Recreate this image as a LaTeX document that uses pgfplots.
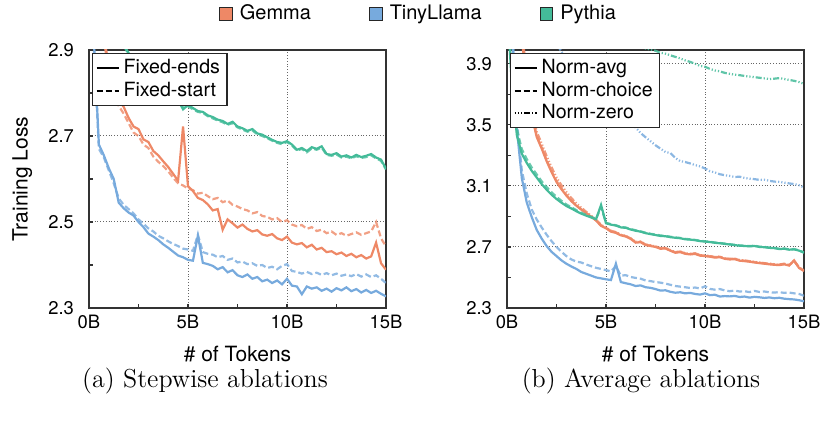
\documentclass[border=0pt]{standalone}
\usepackage{fontspec}
\setsansfont{TeX Gyre Heros}
\renewcommand{\familydefault}{\sfdefault}
\usepackage{pgfplots}
\usepackage{pgfplotstable}
\pgfplotsset{compat=1.18}

\definecolor{gemma}{HTML}{EE8866}
\definecolor{tinyl}{HTML}{77AADD}
\definecolor{pythia}{HTML}{44BB99}

% (a) stepwise: ends = Fixed-ends, st = Fixed-start
\pgfplotstableread{
x ge gs te ts pe ps
0.00 3.300 3.280 3.400 3.380 3.600 3.590
0.25 3.140 3.120 2.920 2.900 3.400 3.395
0.50 3.010 3.000 2.680 2.670 3.220 3.215
0.75 2.930 2.920 2.655 2.650 3.100 3.098
1.00 2.865 2.855 2.625 2.620 3.020 3.018
1.25 2.815 2.805 2.600 2.590 2.970 2.968
1.50 2.782 2.770 2.545 2.555 2.940 2.937
1.75 2.768 2.752 2.532 2.540 2.912 2.910
2.00 2.742 2.730 2.522 2.530 2.893 2.890
2.25 2.722 2.708 2.515 2.520 2.876 2.874
2.50 2.716 2.700 2.500 2.506 2.862 2.860
2.75 2.692 2.680 2.488 2.496 2.849 2.846
3.00 2.686 2.672 2.473 2.485 2.838 2.836
3.25 2.665 2.652 2.466 2.478 2.828 2.825
3.50 2.655 2.640 2.458 2.468 2.817 2.815
3.75 2.641 2.630 2.448 2.462 2.809 2.806
4.00 2.628 2.618 2.440 2.455 2.799 2.797
4.25 2.612 2.603 2.431 2.449 2.791 2.789
4.50 2.596 2.590 2.422 2.444 2.784 2.781
4.75 2.722 2.585 2.418 2.438 2.762 2.766
5.00 2.583 2.578 2.412 2.436 2.772 2.769
5.25 2.572 2.574 2.410 2.433 2.765 2.762
5.50 2.556 2.566 2.468 2.470 2.758 2.756
5.75 2.551 2.568 2.405 2.430 2.756 2.754
6.00 2.541 2.560 2.402 2.426 2.748 2.746
6.25 2.527 2.553 2.398 2.424 2.744 2.741
6.50 2.530 2.556 2.390 2.418 2.738 2.736
6.75 2.482 2.546 2.395 2.421 2.735 2.732
7.00 2.506 2.550 2.383 2.412 2.728 2.726
7.25 2.497 2.540 2.388 2.415 2.733 2.730
7.50 2.487 2.536 2.376 2.406 2.722 2.720
7.75 2.494 2.530 2.372 2.408 2.718 2.715
8.00 2.484 2.527 2.378 2.402 2.712 2.710
8.25 2.478 2.520 2.368 2.404 2.716 2.713
8.50 2.481 2.523 2.372 2.398 2.706 2.704
8.75 2.471 2.514 2.362 2.400 2.703 2.700
9.00 2.468 2.512 2.366 2.393 2.697 2.695
9.25 2.472 2.506 2.358 2.396 2.691 2.689
9.50 2.462 2.509 2.364 2.390 2.686 2.684
9.75 2.458 2.500 2.355 2.398 2.684 2.681
10.00 2.466 2.504 2.368 2.402 2.688 2.686
10.25 2.452 2.494 2.352 2.386 2.680 2.678
10.50 2.448 2.490 2.350 2.384 2.668 2.666
10.75 2.451 2.493 2.332 2.380 2.672 2.670
11.00 2.441 2.484 2.350 2.384 2.665 2.662
11.25 2.447 2.488 2.345 2.379 2.674 2.671
11.50 2.436 2.479 2.348 2.382 2.670 2.668
11.75 2.440 2.482 2.340 2.377 2.676 2.673
12.00 2.430 2.474 2.345 2.381 2.658 2.656
12.25 2.432 2.478 2.338 2.376 2.656 2.654
12.50 2.425 2.470 2.346 2.380 2.660 2.657
12.75 2.429 2.474 2.341 2.375 2.652 2.650
13.00 2.421 2.468 2.348 2.378 2.655 2.652
13.25 2.426 2.472 2.339 2.374 2.650 2.648
13.50 2.418 2.476 2.344 2.379 2.656 2.653
13.75 2.423 2.470 2.336 2.373 2.651 2.649
14.00 2.415 2.474 2.342 2.378 2.654 2.651
14.25 2.420 2.478 2.335 2.372 2.658 2.655
14.50 2.452 2.500 2.340 2.376 2.650 2.648
14.75 2.404 2.462 2.333 2.368 2.645 2.642
15.00 2.389 2.443 2.327 2.358 2.624 2.622
}\stepwise

% (b) average: a = Norm-avg, c = Norm-choice, z = Norm-zero
\pgfplotstableread{
x ga gc gz ta tc tz pa pc pz
0.00 5.000 5.000 5.100 5.000 5.000 6.000 4.300 4.350 8.000
0.25 4.600 4.600 4.700 4.100 4.200 5.500 3.750 3.800 7.000
0.50 4.250 4.260 4.320 3.470 3.520 5.100 3.430 3.470 6.400
0.75 4.050 4.060 4.100 3.150 3.200 4.800 3.310 3.340 6.000
1.00 3.800 3.810 3.850 2.990 3.050 4.600 3.250 3.275 5.700
1.25 3.560 3.570 3.600 2.895 2.945 4.450 3.198 3.220 5.450
1.50 3.420 3.430 3.455 2.812 2.880 4.330 3.155 3.175 5.250
1.75 3.345 3.352 3.378 2.755 2.828 4.240 3.112 3.130 5.080
2.00 3.262 3.270 3.295 2.706 2.780 4.160 3.075 3.092 4.940
2.25 3.190 3.198 3.222 2.668 2.738 4.090 3.042 3.058 4.820
2.50 3.125 3.132 3.155 2.640 2.700 4.030 3.014 3.028 4.720
2.75 3.078 3.084 3.104 2.612 2.668 3.980 2.990 3.002 4.630
3.00 3.036 3.040 3.060 2.590 2.640 3.930 2.968 2.978 4.550
3.25 3.000 3.004 3.020 2.572 2.618 3.885 2.952 2.960 4.480
3.50 2.970 2.972 2.986 2.556 2.604 3.845 2.934 2.941 4.420
3.75 2.945 2.946 2.958 2.536 2.598 3.810 2.918 2.924 4.360
4.00 2.921 2.922 2.930 2.524 2.585 3.775 2.905 2.910 4.310
4.25 2.898 2.899 2.905 2.512 2.574 3.745 2.893 2.897 4.260
4.50 2.872 2.874 2.878 2.500 2.563 3.715 2.882 2.885 4.220
4.75 2.838 2.842 2.845 2.494 2.556 3.690 2.975 2.960 4.180
5.00 2.822 2.825 2.826 2.488 2.548 3.665 2.855 2.858 4.150
5.25 2.800 2.804 2.806 2.483 2.540 3.640 2.846 2.849 4.120
5.50 2.792 2.795 2.797 2.590 2.575 3.620 2.840 2.842 4.090
5.75 2.776 2.779 2.780 2.470 2.512 3.575 2.828 2.831 4.070
6.00 2.768 2.771 2.772 2.462 2.515 3.535 2.825 2.827 4.050
6.25 2.752 2.755 2.756 2.455 2.503 3.505 2.814 2.817 4.035
6.50 2.728 2.731 2.733 2.444 2.497 3.482 2.806 2.809 4.020
6.75 2.731 2.734 2.735 2.448 2.492 3.446 2.800 2.802 4.008
7.00 2.712 2.715 2.716 2.436 2.480 3.418 2.790 2.793 4.000
7.25 2.706 2.709 2.710 2.432 2.476 3.392 2.784 2.786 3.993
7.50 2.700 2.703 2.704 2.424 2.470 3.366 2.778 2.781 3.985
7.75 2.688 2.691 2.692 2.414 2.466 3.344 2.772 2.775 3.972
8.00 2.690 2.693 2.694 2.416 2.460 3.322 2.770 2.772 3.966
8.25 2.675 2.678 2.679 2.406 2.452 3.315 2.764 2.767 3.955
8.50 2.662 2.665 2.666 2.400 2.444 3.283 2.760 2.762 3.945
8.75 2.666 2.669 2.670 2.403 2.440 3.262 2.757 2.759 3.935
9.00 2.655 2.658 2.659 2.396 2.436 3.256 2.750 2.753 3.922
9.25 2.651 2.654 2.655 2.399 2.431 3.247 2.748 2.750 3.912
9.50 2.654 2.657 2.658 2.392 2.434 3.236 2.744 2.746 3.900
9.75 2.643 2.646 2.647 2.388 2.428 3.228 2.738 2.741 3.886
10.00 2.640 2.643 2.644 2.396 2.442 3.214 2.735 2.737 3.880
10.25 2.636 2.639 2.640 2.384 2.425 3.196 2.732 2.734 3.866
10.50 2.630 2.633 2.634 2.387 2.420 3.188 2.727 2.729 3.856
10.75 2.633 2.636 2.637 2.375 2.424 3.176 2.724 2.726 3.850
11.00 2.622 2.625 2.626 2.378 2.415 3.170 2.720 2.722 3.840
11.25 2.618 2.621 2.622 2.376 2.410 3.165 2.716 2.718 3.834
11.50 2.620 2.623 2.624 2.379 2.414 3.158 2.712 2.714 3.828
11.75 2.610 2.613 2.614 2.372 2.408 3.160 2.708 2.710 3.825
12.00 2.607 2.610 2.611 2.375 2.410 3.152 2.706 2.708 3.820
12.25 2.603 2.606 2.607 2.368 2.404 3.147 2.704 2.706 3.816
12.50 2.598 2.601 2.602 2.373 2.412 3.144 2.706 2.708 3.812
12.75 2.594 2.597 2.598 2.370 2.405 3.139 2.700 2.702 3.808
13.00 2.590 2.593 2.594 2.366 2.408 3.140 2.698 2.700 3.804
13.25 2.586 2.589 2.590 2.369 2.403 3.133 2.694 2.696 3.800
13.50 2.583 2.586 2.587 2.364 2.401 3.128 2.692 2.694 3.802
13.75 2.581 2.584 2.585 2.367 2.404 3.126 2.686 2.688 3.806
14.00 2.586 2.589 2.590 2.361 2.399 3.121 2.688 2.690 3.800
14.25 2.578 2.581 2.582 2.358 2.401 3.116 2.682 2.684 3.794
14.50 2.612 2.606 2.610 2.356 2.396 3.112 2.684 2.686 3.788
14.75 2.562 2.565 2.566 2.351 2.392 3.104 2.676 2.678 3.780
15.00 2.542 2.545 2.546 2.344 2.380 3.089 2.662 2.664 3.768
}\average

\pgfplotsset{
  lossax/.style={
    scale only axis, width=148.5pt, height=129pt,
    xmin=0, xmax=15,
    xtick={0,5,10,15}, xticklabels={0B,5B,10B,15B},
    minor xtick={2.5,7.5,12.5},
    tick align=inside, tick pos=left,
    major tick length=2pt, minor tick length=2pt,
    grid=major,
    major grid style={densely dotted, black!60, line width=0.5pt},
    axis line style={black!80, line width=0.6pt},
    every tick/.style={black!80, line width=0.6pt},
    every minor tick/.style={black!80, line width=0.6pt},
    tick label style={font=\sffamily\fontsize{9.2}{10}\selectfont},
    /pgf/number format/assume math mode=true,
    yticklabel style={/pgf/number format/fixed, /pgf/number format/precision=1, xshift=-4pt},
    label style={font=\sffamily\fontsize{10.5}{12}\selectfont},
    xlabel={\# of Tokens},
    xlabel style={at={(axis description cs:0.5,0)}, anchor=center, yshift=-23pt},
    legend style={at={(axis description cs:0,1)}, anchor=north west,
      xshift=1.5pt, yshift=-1.5pt, draw=black!85, line width=0.6pt, fill=white,
      font=\sffamily\fontsize{9.8}{11}\selectfont, inner xsep=1.5pt, inner ysep=1pt,
      row sep=-1.5pt, cells={anchor=west}},
    legend image code/.code={\draw[#1] (0pt,0pt) -- (11pt,0pt);},
  },
  crv/.style={line width=1.1pt},
  dsh/.style={line width=1.1pt, dash pattern=on 3pt off 1.5pt, opacity=0.8},
  dzr/.style={line width=1.1pt, dash pattern=on 0.6pt off 1pt on 0.6pt off 1pt on 0.6pt off 1pt on 3pt off 1pt, opacity=0.85},
}

\begin{document}
\begin{tikzpicture}[font=\sffamily]
\useasboundingbox (-44.5pt,-56.5pt) rectangle (368pt,154pt);

% colour legend on top
\begin{axis}[at={(0pt,0pt)}, anchor=south west, scale only axis,
  width=368pt, height=154pt, hide axis,
  xmin=0, xmax=1, ymin=0, ymax=1,
  legend columns=3,
  legend style={at={(0.449,0.955)}, anchor=center, draw=none, fill=none,
    font=\sffamily\fontsize{10}{11}\selectfont,
    /tikz/every odd column/.append style={column sep=1.5pt},
    /tikz/every even column/.append style={column sep=27pt}},
  legend image code/.code={\draw[#1] (0pt,-3.2pt) rectangle (6.4pt,3.2pt);}]
\addlegendimage{draw=black!85, line width=0.5pt, fill=gemma}
\addlegendentry{Gemma}
\addlegendimage{draw=black!85, line width=0.5pt, fill=tinyl}
\addlegendentry{TinyLlama}
\addlegendimage{draw=black!85, line width=0.5pt, fill=pythia}
\addlegendentry{Pythia}
\end{axis}

% (a) stepwise ablations
\begin{axis}[lossax, at={(0pt,0pt)}, anchor=south west,
  ymin=2.3, ymax=2.9, ytick={2.3,2.5,2.7,2.9}, minor ytick={2.4,2.6,2.8},
  ylabel={Training Loss},
  ylabel style={at={(axis description cs:-0.225,0.5)}, anchor=center}]
\addlegendimage{black, line width=1pt}
\addlegendentry{Fixed-ends}
\addlegendimage{black, line width=1pt, dash pattern=on 3pt off 1.5pt}
\addlegendentry{Fixed-start}
\addplot[dsh, tinyl, forget plot] table[x=x, y=ts] {\stepwise};
\addplot[crv, tinyl, forget plot] table[x=x, y=te] {\stepwise};
\addplot[dsh, gemma, forget plot] table[x=x, y=gs] {\stepwise};
\addplot[crv, gemma, forget plot] table[x=x, y=ge] {\stepwise};
\addplot[dsh, pythia, forget plot] table[x=x, y=ps] {\stepwise};
\addplot[crv, pythia, forget plot] table[x=x, y=pe] {\stepwise};
\end{axis}

% (b) average ablations
\begin{axis}[lossax, at={(209pt,0pt)}, anchor=south west,
  ymin=2.3, ymax=3.99, ytick={2.3,2.7,3.1,3.5,3.9}, minor ytick={2.5,2.9,3.3,3.7}]
\addlegendimage{black, line width=1pt}
\addlegendentry{Norm-avg}
\addlegendimage{black, line width=1pt, dash pattern=on 3pt off 1.5pt}
\addlegendentry{Norm-choice}
\addlegendimage{black, line width=1pt, dash pattern=on 0.6pt off 1pt on 0.6pt off 1pt on 0.6pt off 1pt on 3pt off 1pt}
\addlegendentry{Norm-zero}
\addplot[dzr, tinyl, forget plot] table[x=x, y=tz] {\average};
\addplot[dsh, tinyl, forget plot] table[x=x, y=tc] {\average};
\addplot[crv, tinyl, forget plot] table[x=x, y=ta] {\average};
\addplot[dzr, gemma, forget plot] table[x=x, y=gz] {\average};
\addplot[dsh, gemma, forget plot] table[x=x, y=gc] {\average};
\addplot[crv, gemma, forget plot] table[x=x, y=ga] {\average};
\addplot[dzr, pythia, forget plot] table[x=x, y=pz] {\average};
\addplot[dsh, pythia, forget plot] table[x=x, y=pc] {\average};
\addplot[crv, pythia, forget plot] table[x=x, y=pa] {\average};
\end{axis}

\node[font=\rmfamily\fontsize{13}{15}\selectfont] at (58pt,-36.5pt) {(a) Stepwise ablations};
\node[font=\rmfamily\fontsize{13}{15}\selectfont] at (276pt,-36.5pt) {(b) Average ablations};
\end{tikzpicture}
\end{document}
